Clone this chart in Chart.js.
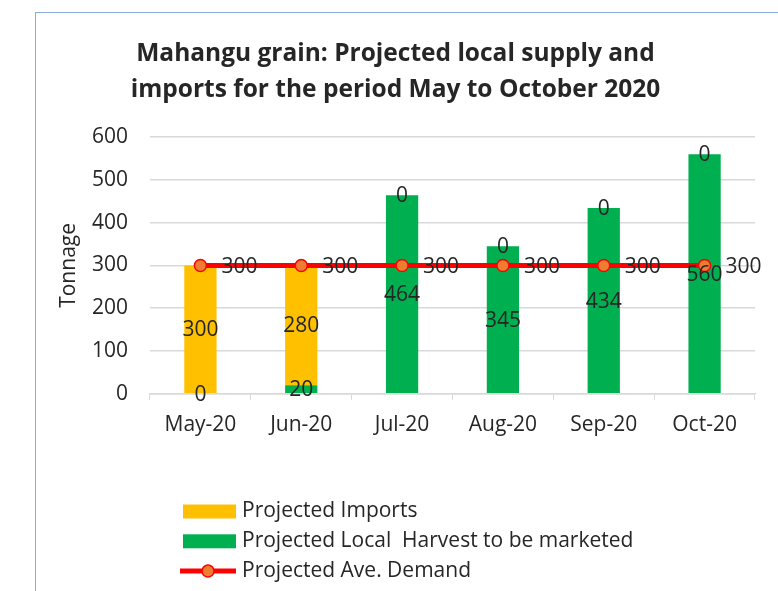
<!DOCTYPE html>
<html>
<head>
<meta charset="utf-8">
<script src="https://cdn.jsdelivr.net/npm/chart.js@4"></script>
<style>
  html, body { margin: 0; padding: 0; background: #fff; overflow: hidden; }
  #box { position: absolute; left: 35px; top: 12px; width: 800px; height: 700px;
         border-left: 1px solid #8eaadb; border-top: 1px solid #8eaadb; }
  #wrap { position: absolute; left: 0; top: 0; width: 742px; height: 578px; }
</style>
</head>
<body>
<div id="box"><div id="wrap"><canvas id="supplyChart"></canvas></div></div>
<script>
const months = ['May-20', 'Jun-20', 'Jul-20', 'Aug-20', 'Sep-20', 'Oct-20'];
const localHarvest = [0, 20, 464, 345, 434, 560];
const imports = [300, 280, 0, 0, 0, 0];
const demand = [300, 300, 300, 300, 300, 300];

const FONT = "'Open Sans', 'DejaVu Sans', sans-serif";
const TEXT = '#262626';

// value labels, drawn on top of everything (Excel-style)
const valueLabels = {
  id: 'valueLabels',
  afterDraw(chart) {
    const ctx = chart.ctx;
    ctx.save();
    ctx.font = `21px ${FONT}`;
    ctx.fillStyle = TEXT;
    ctx.textBaseline = 'middle';
    chart.data.datasets.forEach((ds, i) => {
      const meta = chart.getDatasetMeta(i);
      meta.data.forEach((el, j) => {
        const v = ds.data[j];
        if (meta.type === 'bar') {
          const p = el.getProps(['x', 'y', 'base'], true);
          ctx.textAlign = 'center';
          ctx.fillText(v, p.x, (p.y + p.base) / 2 + 1);
        } else {
          ctx.textAlign = 'left';
          ctx.fillText(v, el.x + 21, el.y + 2);
        }
      });
    });
    ctx.restore();
  }
};

// vertical legend under the plot
const stackedLegend = {
  id: 'stackedLegend',
  afterDraw(chart) {
    const ctx = chart.ctx;
    const order = [1, 0, 2];
    const x0 = 147, y0 = 498.5, rowH = 29.8;
    ctx.save();
    ctx.font = `21px ${FONT}`;
    ctx.textBaseline = 'middle';
    ctx.textAlign = 'left';
    order.forEach((idx, r) => {
      const ds = chart.data.datasets[idx];
      const y = y0 + r * rowH;
      if (ds.type === 'line') {
        ctx.strokeStyle = ds.borderColor;
        ctx.lineWidth = 5;
        ctx.beginPath();
        ctx.moveTo(x0 - 3, y);
        ctx.lineTo(x0 + 53, y);
        ctx.stroke();
        ctx.beginPath();
        ctx.arc(x0 + 25, y, 6, 0, Math.PI * 2);
        ctx.fillStyle = ds.pointBackgroundColor;
        ctx.fill();
        ctx.lineWidth = 1.5;
        ctx.strokeStyle = ds.pointBorderColor;
        ctx.stroke();
      } else {
        ctx.fillStyle = ds.backgroundColor;
        ctx.fillRect(x0, y - 7, 53, 14);
      }
      ctx.fillStyle = TEXT;
      ctx.fillText(ds.label, x0 + 59, y);
    });
    ctx.restore();
  }
};

new Chart(document.getElementById('supplyChart'), {
  type: 'bar',
  data: {
    labels: months,
    datasets: [
      {
        label: 'Projected Local  Harvest to be marketed',
        data: localHarvest,
        backgroundColor: '#00b050',
        categoryPercentage: 0.4,
        barPercentage: 0.8,
        order: 1
      },
      {
        label: 'Projected Imports',
        data: imports,
        backgroundColor: '#ffc000',
        categoryPercentage: 0.4,
        barPercentage: 0.8,
        order: 1
      },
      {
        type: 'line',
        label: 'Projected Ave. Demand',
        data: demand,
        stack: 'demand',
        borderColor: '#ff0000',
        borderWidth: 5,
        pointRadius: 6,
        pointBackgroundColor: '#ed7d31',
        pointBorderColor: '#ff0000',
        pointBorderWidth: 1.5,
        order: 0
      }
    ]
  },
  options: {
    responsive: true,
    maintainAspectRatio: false,
    animation: false,
    layout: { padding: { left: 0, right: 23, top: 0, bottom: 140 } },
    scales: {
      x: {
        stacked: true,
        grid: { offset: true, drawOnChartArea: false, drawTicks: true, tickLength: 6, color: '#d9d9d9' },
        border: { color: '#d9d9d9', width: 1.5 },
        ticks: { color: TEXT, font: { family: FONT, size: 21 }, padding: 13 }
      },
      y: {
        stacked: true,
        min: 0,
        max: 600,
        afterFit(scale) { scale.width = 114; },
        grid: { color: '#d9d9d9', lineWidth: 1.5, drawTicks: false },
        border: { display: false },
        ticks: { stepSize: 100, color: TEXT, font: { family: FONT, size: 21 }, padding: 22 },
        title: {
          display: true,
          text: 'Tonnage',
          color: TEXT,
          font: { family: FONT, size: 21 },
          padding: { top: 20, bottom: 0 }
        }
      }
    },
    plugins: {
      legend: { display: false },
      tooltip: { enabled: false },
      title: {
        display: true,
        text: ['Mahangu grain: Projected local supply and', 'imports for the period May to October 2020'],
        color: TEXT,
        font: { family: FONT, size: 24.5, weight: 'bold', lineHeight: 1.47 },
        padding: { top: 23, bottom: 29 }
      }
    }
  },
  plugins: [valueLabels, stackedLegend]
});
</script>
</body>
</html>
